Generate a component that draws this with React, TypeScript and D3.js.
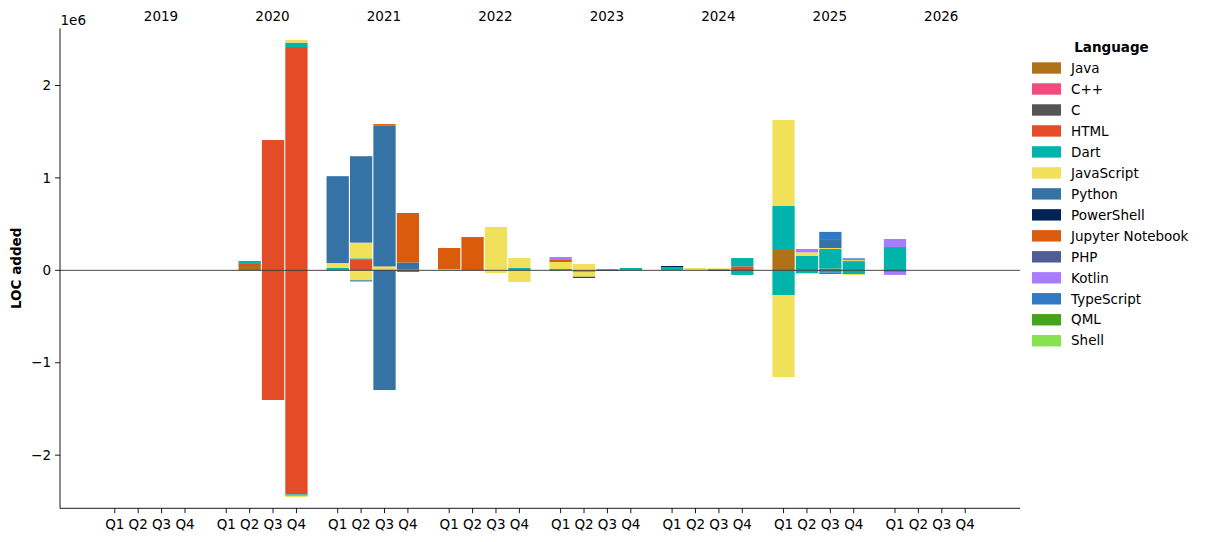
import React from "react";
import * as d3 from "d3";

// ---- Data (LOC in thousands) ----
const years = ["2019", "2020", "2021", "2022", "2023", "2024", "2025", "2026"];
const quarters = ["Q1", "Q2", "Q3", "Q4"];
const languages = [
  "Java", "C++", "C", "HTML", "Dart", "JavaScript", "Python", "PowerShell",
  "Jupyter Notebook", "PHP", "Kotlin", "TypeScript", "QML", "Shell",
];
const colors = [
  "#b07219", "#f34b7d", "#555555", "#e34c26", "#00b4ab", "#f1e05a", "#3572a5", "#012456",
  "#da5b0b", "#4f5d95", "#a97bff", "#3178c6", "#44a51c", "#89e051",
];

// period index = yearIndex*4 + quarterIndex (2019Q1 .. 2026Q4)
//                     2019         2020              2021                 2022              2023            2024           2025                 2026
const javaAdd =       [0,0,0,0,  0,47,0,0,        0,0,0,0,            0,0,0,0,          0,0,0,0,        0,0,0,0,       220,0,0,0,           0,0,0,0];
const cppAdd =        [0,0,0,0,  0,0,0,0,         0,0,0,0,            0,0,0,0,          0,0,0,0,        0,0,0,0,       0,0,0,0,             0,0,0,0];
const cAdd =          [0,0,0,0,  0,0,0,0,         0,0,0,0,            0,0,0,0,          0,0,0,0,        0,0,0,0,       0,0,0,0,             0,0,0,0];
const htmlAdd =       [0,0,0,0,  0,22,1410,2417,  0,120,0,0,          0,0,0,0,          0,0,0,0,        0,0,12,43,     0,0,18,0,            0,0,0,0];
const dartAdd =       [0,0,0,0,  0,32,0,47,       25,10,10,8,         5,0,0,25,         14,0,12,25,     36,0,0,90,     476,155,213,100,     252,0,0,0];
const jsAdd =         [0,0,0,0,  0,0,0,29,        54,170,32,0,        7,0,469,108,      76,69,0,0,      0,25,10,0,     931,40,11,10,        0,0,0,0];
const pythonAdd =     [0,0,0,0,  0,0,0,0,         940,935,1525,76,    0,0,0,0,          0,0,0,0,        0,0,0,0,       0,0,87,0,            0,0,0,0];
const powershellAdd = [0,0,0,0,  0,0,0,0,         0,0,0,0,            0,0,0,0,          0,0,0,0,        11,0,0,0,      0,0,0,0,             0,0,0,0];
const jupyterAdd =    [0,0,0,0,  0,0,0,0,         0,0,16,525,         230,360,0,0,      22,0,0,0,       0,0,0,0,       0,0,0,10,            0,0,0,0];
const phpAdd =        [0,0,0,0,  0,0,0,0,         0,0,0,10,           0,0,0,0,          0,0,0,0,        0,0,0,0,       0,0,0,0,             0,0,0,0];
const kotlinAdd =     [0,0,0,0,  0,0,0,0,         0,0,0,0,            0,0,0,0,          32,0,0,0,       0,0,0,0,       0,36,0,0,            87,0,0,0];
const tsAdd =         [0,0,0,0,  0,0,0,0,         0,0,0,0,            0,0,0,0,          0,0,0,0,        0,0,0,0,       0,0,87,10,           0,0,0,0];
const qmlAdd =        [0,0,0,0,  0,0,0,0,         0,0,0,0,            0,0,0,0,          0,0,0,0,        0,0,0,0,       0,0,0,0,             0,0,0,0];
const shellAdd =      [0,0,0,0,  0,0,0,0,         0,0,0,0,            0,0,0,0,          0,0,0,0,        0,0,0,0,       0,0,0,0,             0,0,0,0];

const htmlDel =       [0,0,0,0,  0,0,-1403,-2424, 0,0,0,0,            0,0,0,0,          0,-16,0,0,      0,0,0,0,       0,0,0,0,             0,0,0,0];
const dartDel =       [0,0,0,0,  0,0,0,-15,       0,0,0,0,            0,0,0,0,          0,0,0,0,        0,0,0,-50,     -267,-29,-22,-40,    -18,0,0,0];
const jsDel =         [0,0,0,0,  0,0,0,-15,       0,-108,0,0,         0,0,-29,-126,     0,-54,0,0,      0,0,0,0,       -888,-11,0,-11,      0,0,0,0];
const pythonDel =     [0,0,0,0,  0,0,0,0,         0,-12,-1295,0,      0,0,0,0,          0,0,0,0,        0,0,0,0,       0,0,0,0,             0,0,0,0];
const powershellDel = [0,0,0,0,  0,0,0,0,         0,0,0,0,            0,0,0,0,          0,-11,-6,0,     0,0,-6,0,      0,0,0,0,             0,0,0,0];
const jupyterDel =    [0,0,0,0,  0,0,0,0,         0,0,0,-18,          0,0,0,0,          0,0,0,0,        0,0,0,0,       0,0,0,0,             0,0,0,0];
const kotlinDel =     [0,0,0,0,  0,0,0,0,         0,0,0,0,            0,0,0,0,          0,0,0,0,        0,0,0,0,       0,0,0,0,             -32,0,0,0];
const tsDel =         [0,0,0,0,  0,0,0,0,         0,0,0,0,            0,0,0,0,          0,0,0,0,        0,0,0,0,       0,0,-18,0,           0,0,0,0];

const yTicks = [-2, -1, 0, 1, 2];

const zeros = new Array(32).fill(0);
const addedByLang: number[][] = [
  javaAdd, cppAdd, cAdd, htmlAdd, dartAdd, jsAdd, pythonAdd, powershellAdd,
  jupyterAdd, phpAdd, kotlinAdd, tsAdd, qmlAdd, shellAdd,
];
const removedByLang: number[][] = [
  zeros, zeros, zeros, htmlDel, dartDel, jsDel, pythonDel, powershellDel,
  jupyterDel, zeros, kotlinDel, tsDel, zeros, zeros,
];

const W = 1207;
const H = 542;
const left = 60, right = 1020, top = 28.3, bottom = 508.3;
const FONT = "DejaVu Sans, sans-serif";
const FS = 13.5;

export default function App() {
  const step = 0.21;
  const barW = 0.2;
  const x = d3.scaleLinear().domain([-0.4915, 8.1215]).range([left, right]);
  const y = d3.scaleLinear().domain([-2.575e6, 2.619e6]).range([bottom, top]);

  const rects: React.ReactNode[] = [];
  for (let p = 0; p < 32; p++) {
    const yi = Math.floor(p / 4);
    const qi = p % 4;
    const cx = yi + qi * step;
    let posBase = 0;
    let negBase = 0;
    languages.forEach((lang, li) => {
      const a = addedByLang[li][p] * 1000;
      if (a > 0) {
        const y0 = y(posBase), y1 = y(posBase + a);
        rects.push(
          <rect key={`p${p}-${li}`} x={x(cx - barW / 2)} width={x(cx + barW / 2) - x(cx - barW / 2)}
            y={y1} height={y0 - y1} fill={colors[li]} />
        );
        posBase += a;
      }
      const r = removedByLang[li][p] * 1000;
      if (r < 0) {
        const y0 = y(negBase), y1 = y(negBase + r);
        rects.push(
          <rect key={`n${p}-${li}`} x={x(cx - barW / 2)} width={x(cx + barW / 2) - x(cx - barW / 2)}
            y={y0} height={y1 - y0} fill={colors[li]} />
        );
        negBase += r;
      }
    });
  }

  const xTicks: { pos: number; label: string }[] = [];
  years.forEach((_, yi) => quarters.forEach((q, qi) => xTicks.push({ pos: yi + qi * step, label: q })));

  const fmt = (v: number) => (v < 0 ? "\u2212" + Math.abs(v) : String(v));

  return (
    <svg width={W} height={H} style={{ position: "absolute", left: 0, top: 0, background: "#fff" }}
      fontFamily={FONT} fontSize={FS}>
      <rect x={0} y={0} width={W} height={H} fill="#fff" />
      {rects}
      {/* zero line */}
      <line x1={left} x2={right} y1={y(0)} y2={y(0)} stroke="#333" strokeWidth={0.9} />
      {/* spines */}
      <line x1={left} x2={left} y1={top} y2={bottom} stroke="#000" strokeWidth={0.9} />
      <line x1={left} x2={right} y1={bottom} y2={bottom} stroke="#000" strokeWidth={0.9} />
      {/* y ticks */}
      {yTicks.map((t) => (
        <g key={`yt${t}`}>
          <line x1={left - 4.9} x2={left} y1={y(t * 1e6)} y2={y(t * 1e6)} stroke="#000" strokeWidth={0.9} />
          <text x={left - 9} y={y(t * 1e6)} dy="0.35em" textAnchor="end" fill="#000">{fmt(t)}</text>
        </g>
      ))}
      <text x={left + 0.5} y={24.5} fill="#000">1e6</text>
      {/* x ticks */}
      {xTicks.map((t, i) => (
        <g key={`xt${i}`}>
          <line x1={x(t.pos)} x2={x(t.pos)} y1={bottom} y2={bottom + 4.9} stroke="#000" strokeWidth={0.9} />
          <text x={x(t.pos)} y={bottom + 10.5} dy="0.76em" textAnchor="middle" fill="#000">{t.label}</text>
        </g>
      ))}
      {/* year labels */}
      {years.map((yr, yi) => (
        <text key={yr} x={x(yi + 0.415)} y={21} textAnchor="middle" fill="#000">{yr}</text>
      ))}
      {/* y label */}
      <text transform={`translate(21,${(top + bottom) / 2}) rotate(-90)`} textAnchor="middle"
        fontWeight="bold" fill="#000">LOC added</text>
      {/* legend */}
      <text x={1111.5} y={47.3} dy="0.35em" textAnchor="middle" fontWeight="bold" fill="#000">Language</text>
      {languages.map((lang, li) => {
        const cy = 68 + li * 20.98;
        return (
          <g key={lang}>
            <rect x={1032} y={cy - 5.7} width={29} height={11.4} fill={colors[li]} />
            <text x={1071} y={cy} dy="0.35em" fill="#000">{lang}</text>
          </g>
        );
      })}
    </svg>
  );
}
